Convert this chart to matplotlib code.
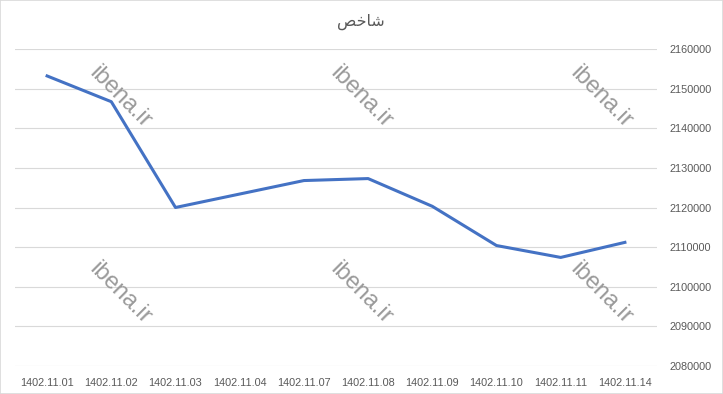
import matplotlib
matplotlib.use("Agg")
import matplotlib.pyplot as plt
from matplotlib.patches import Rectangle

# data
dates = ["1402.11.01", "1402.11.02", "1402.11.03", "1402.11.04", "1402.11.07",
         "1402.11.08", "1402.11.09", "1402.11.10", "1402.11.11", "1402.11.14"]
index_values = [2153200, 2146700, 2120000, 2123400, 2126800,
                2127300, 2120300, 2110400, 2107400, 2111200]
y_ticks = list(range(2080000, 2160001, 10000))

# "شاخص" in presentation forms, reversed for left-to-right drawing
title = "\ufeba\ufea7\ufe8e\ufeb7"
watermark = "ibena.ir"

W, H = 723, 394
fig = plt.figure(figsize=(W / 100, H / 100), dpi=100)
ax = fig.add_axes([15 / W, 1 - 366 / H, (657 - 15) / W, (366 - 49) / H])

x = list(range(len(dates)))
ax.plot(x, index_values, color="#4472C4", lw=2.2, solid_joinstyle="round", zorder=3)

ax.set_xlim(-0.5, len(dates) - 0.5)
ax.set_ylim(y_ticks[0], y_ticks[-1])
ax.set_xticks(x)
ax.set_xticklabels(dates)
ax.set_yticks(y_ticks)
ax.set_yticklabels([str(v) for v in y_ticks])
ax.yaxis.tick_right()
ax.tick_params(axis="both", length=0, labelsize=7.8, labelcolor="#595959")
ax.tick_params(axis="y", pad=9)
ax.tick_params(axis="x", pad=9)
for lab in ax.get_xticklabels() + ax.get_yticklabels():
    lab.set_fontfamily("Liberation Sans")
ax.grid(axis="y", color="#d9d9d9", lw=0.8)
for s in ax.spines.values():
    s.set_visible(False)

fig.text(361 / W, 1 - 22 / H, title, ha="center", va="center",
         fontsize=11.5, color="#595959", family="DejaVu Sans")

# watermarks
for cx in (120, 361, 601):
    for cy in (97, 293):
        fig.text(cx / W, 1 - cy / H, watermark, rotation=-45, ha="center", va="center",
                 rotation_mode="anchor", fontsize=17, color="#9a9a9a",
                 family="Liberation Sans", zorder=4)

fig.patches.append(Rectangle((0, 0), 1, 1, transform=fig.transFigure, fill=False,
                             edgecolor="#d9d9d9", lw=1.2))

fig.savefig("out.png", dpi=100)
